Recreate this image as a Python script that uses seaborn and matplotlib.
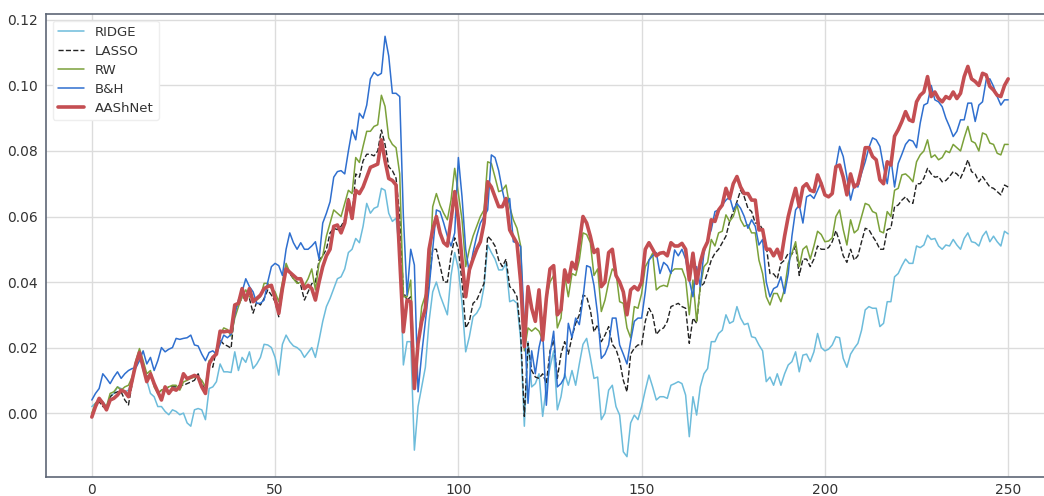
import numpy as np
import pandas as pd
import matplotlib
matplotlib.use('Agg')
import matplotlib.pyplot as plt
import seaborn as sns

# values, one per day 0..250
ridge = [
    0.002, 0.003, 0.004, 0.0035, 0.002, 0.005, 0.006, 0.008, 0.0075, 0.0065,
    0.007, 0.010, 0.015, 0.018, 0.013, 0.010, 0.006, 0.005, 0.002, 0.002,
    0.0005, -0.0005, 0.001, 0.0005, -0.0005, 0.000, -0.003, -0.004, 0.001, 0.0014,
    0.001, -0.002, 0.0075, 0.008, 0.0096, 0.015, 0.0126, 0.0126, 0.0124, 0.0187,
    0.013, 0.017, 0.0155, 0.0187, 0.0136, 0.015, 0.017, 0.021, 0.0208, 0.020,
    0.017, 0.0116, 0.021, 0.0238, 0.0218, 0.0205, 0.020, 0.019, 0.017, 0.0185,
    0.020, 0.017, 0.0223, 0.028, 0.0325, 0.035, 0.038, 0.041, 0.0416, 0.044,
    0.049, 0.050, 0.0533, 0.052, 0.057, 0.064, 0.061, 0.0625, 0.063, 0.0686,
    0.068, 0.061, 0.0585, 0.0595, 0.049, 0.0147, 0.0218, 0.0218, -0.0113, 0.002,
    0.008, 0.014, 0.028, 0.037, 0.040, 0.036, 0.033, 0.030, 0.042, 0.049,
    0.044, 0.0335, 0.0187, 0.0233, 0.0294, 0.0305, 0.0325, 0.0386, 0.0513, 0.049,
    0.047, 0.0437, 0.0437, 0.0457, 0.034, 0.0345, 0.0335, 0.0223, -0.004, 0.0218,
    0.008, 0.009, 0.012, -0.001, 0.008, 0.014, 0.019, 0.001, 0.005, 0.012,
    0.0085, 0.013, 0.0085, 0.015, 0.021, 0.0228, 0.017, 0.0106, 0.011, -0.002,
    0.000, 0.007, 0.0085, 0.002, -0.0006, -0.0118, -0.0133, -0.003, -0.0006, -0.002,
    0.002, 0.007, 0.0116, 0.008, 0.004, 0.005, 0.005, 0.0045, 0.0085, 0.009,
    0.0096, 0.009, 0.0055, -0.0072, 0.005, -0.0006, 0.008, 0.012, 0.0136, 0.0218,
    0.0218, 0.0243, 0.0253, 0.030, 0.0274, 0.028, 0.0325, 0.029, 0.027, 0.0274,
    0.0233, 0.023, 0.0208, 0.019, 0.0096, 0.011, 0.0085, 0.012, 0.0085, 0.012,
    0.0147, 0.0157, 0.0187, 0.0126, 0.0177, 0.018, 0.0157, 0.0187, 0.0243, 0.020,
    0.019, 0.0195, 0.0208, 0.0233, 0.023, 0.0167, 0.014, 0.018, 0.0198, 0.0213,
    0.0253, 0.0315, 0.0325, 0.032, 0.032, 0.0264, 0.0274, 0.034, 0.034, 0.0416,
    0.0426, 0.045, 0.047, 0.0457, 0.0457, 0.051, 0.0505, 0.0513, 0.0543, 0.053,
    0.0533, 0.051, 0.050, 0.0513, 0.051, 0.053, 0.0513, 0.050, 0.0533, 0.055,
    0.0523, 0.052, 0.051, 0.054, 0.0555, 0.0523, 0.054, 0.0523, 0.051, 0.0555,
    0.0547,
]

lasso = [
    -0.001, 0.002, 0.0035, 0.002, 0.0015, 0.005, 0.006, 0.0065, 0.0065, 0.004,
    0.0025, 0.009, 0.015, 0.018, 0.014, 0.011, 0.012, 0.009, 0.006, 0.007,
    0.0072, 0.008, 0.008, 0.008, 0.0085, 0.0085, 0.009, 0.0095, 0.010, 0.012,
    0.009, 0.007, 0.015, 0.014, 0.0195, 0.0223, 0.021, 0.0205, 0.0198, 0.0315,
    0.0335, 0.035, 0.0355, 0.035, 0.0305, 0.034, 0.033, 0.035, 0.0376, 0.036,
    0.034, 0.0294, 0.037, 0.045, 0.0426, 0.041, 0.040, 0.039, 0.0345, 0.037,
    0.0395, 0.040, 0.0467, 0.048, 0.050, 0.055, 0.0564, 0.056, 0.057, 0.059,
    0.0655, 0.060, 0.073, 0.072, 0.077, 0.079, 0.079, 0.0785, 0.080, 0.0864,
    0.082, 0.0752, 0.074, 0.0717, 0.060, 0.037, 0.0345, 0.0355, 0.009, 0.0223,
    0.028, 0.031, 0.040, 0.050, 0.050, 0.045, 0.040, 0.040, 0.048, 0.0535,
    0.050, 0.040, 0.026, 0.028, 0.0335, 0.0345, 0.037, 0.0396, 0.054, 0.0528,
    0.051, 0.0467, 0.0447, 0.047, 0.0386, 0.0376, 0.0355, 0.0243, -0.001, 0.0213,
    0.013, 0.011, 0.0106, 0.012, 0.009, 0.019, 0.0223, 0.0106, 0.018, 0.0218,
    0.018, 0.0233, 0.0274, 0.030, 0.036, 0.0355, 0.0315, 0.0248, 0.027, 0.0218,
    0.0238, 0.0264, 0.021, 0.0195, 0.016, 0.010, 0.0065, 0.018, 0.0198, 0.0208,
    0.0208, 0.028, 0.032, 0.030, 0.024, 0.0254, 0.026, 0.028, 0.0325, 0.033,
    0.0335, 0.0325, 0.032, 0.0213, 0.029, 0.0274, 0.0386, 0.0396, 0.043, 0.0467,
    0.0488, 0.050, 0.052, 0.054, 0.0585, 0.0615, 0.0645, 0.068, 0.066, 0.0625,
    0.0615, 0.058, 0.058, 0.056, 0.051, 0.0426, 0.0425, 0.041, 0.0457, 0.0467,
    0.0488, 0.0485, 0.051, 0.042, 0.047, 0.047, 0.0447, 0.047, 0.051, 0.050,
    0.050, 0.0505, 0.0523, 0.0557, 0.0523, 0.048, 0.046, 0.050, 0.0467, 0.048,
    0.0523, 0.0564, 0.056, 0.054, 0.0523, 0.050, 0.050, 0.056, 0.0564, 0.063,
    0.0635, 0.065, 0.066, 0.0645, 0.064, 0.070, 0.070, 0.0717, 0.0747, 0.073,
    0.072, 0.0722, 0.0706, 0.071, 0.0722, 0.0737, 0.073, 0.0717, 0.0742, 0.0773,
    0.0737, 0.073, 0.0706, 0.0722, 0.0706, 0.069, 0.0686, 0.0676, 0.0666, 0.0696,
    0.069,
]

rw = [
    0.000, 0.003, 0.004, 0.003, 0.002, 0.006, 0.0065, 0.008, 0.007, 0.008,
    0.0085, 0.011, 0.016, 0.0197, 0.016, 0.012, 0.013, 0.008, 0.006, 0.007,
    0.0075, 0.008, 0.0085, 0.0085, 0.007, 0.0095, 0.010, 0.0106, 0.011, 0.011,
    0.010, 0.008, 0.016, 0.0165, 0.019, 0.024, 0.026, 0.0255, 0.0235, 0.029,
    0.0325, 0.0355, 0.0376, 0.0355, 0.035, 0.0345, 0.0355, 0.0396, 0.0396, 0.038,
    0.037, 0.034, 0.040, 0.0457, 0.043, 0.041, 0.0396, 0.040, 0.039, 0.041,
    0.044, 0.0376, 0.0457, 0.048, 0.054, 0.058, 0.062, 0.061, 0.060, 0.064,
    0.068, 0.067, 0.078, 0.0765, 0.0814, 0.086, 0.086, 0.0875, 0.088, 0.097,
    0.0936, 0.084, 0.082, 0.081, 0.073, 0.0355, 0.0355, 0.0406, 0.012, 0.021,
    0.0325, 0.036, 0.040, 0.063, 0.067, 0.0635, 0.061, 0.059, 0.065, 0.0747,
    0.067, 0.059, 0.0447, 0.050, 0.054, 0.057, 0.060, 0.062, 0.0767, 0.0762,
    0.072, 0.0676, 0.068, 0.0696, 0.063, 0.059, 0.0564, 0.051, 0.019, 0.026,
    0.025, 0.026, 0.025, 0.0223, 0.035, 0.040, 0.042, 0.026, 0.029, 0.042,
    0.0355, 0.0426, 0.042, 0.0467, 0.055, 0.0545, 0.052, 0.042, 0.044, 0.031,
    0.0345, 0.040, 0.044, 0.043, 0.034, 0.0335, 0.026, 0.023, 0.0325, 0.032,
    0.0365, 0.0447, 0.0467, 0.0488, 0.0376, 0.0386, 0.039, 0.0386, 0.043, 0.044,
    0.044, 0.044, 0.041, 0.030, 0.0406, 0.028, 0.0386, 0.0447, 0.046, 0.053,
    0.051, 0.055, 0.0555, 0.0605, 0.0585, 0.060, 0.0635, 0.059, 0.057, 0.0575,
    0.055, 0.055, 0.0467, 0.0426, 0.0355, 0.033, 0.0365, 0.0365, 0.034, 0.038,
    0.0457, 0.0488, 0.0523, 0.0447, 0.050, 0.051, 0.047, 0.051, 0.0555, 0.0545,
    0.0523, 0.0525, 0.0535, 0.060, 0.062, 0.056, 0.0513, 0.059, 0.055, 0.056,
    0.060, 0.064, 0.0635, 0.0615, 0.061, 0.0555, 0.055, 0.0615, 0.060, 0.068,
    0.0686, 0.0727, 0.073, 0.072, 0.0706, 0.0767, 0.0788, 0.080, 0.0834, 0.078,
    0.0788, 0.0773, 0.078, 0.080, 0.0795, 0.082, 0.081, 0.080, 0.084, 0.0875,
    0.083, 0.0824, 0.080, 0.0855, 0.085, 0.0824, 0.082, 0.0793, 0.0788, 0.082,
    0.082,
]

bh = [
    0.004, 0.006, 0.0075, 0.012, 0.0106, 0.009, 0.011, 0.0126, 0.0106, 0.012,
    0.013, 0.0136, 0.0138, 0.016, 0.019, 0.015, 0.017, 0.013, 0.016, 0.020,
    0.0187, 0.0195, 0.020, 0.0228, 0.0225, 0.0228, 0.023, 0.0238, 0.0208, 0.0205,
    0.018, 0.016, 0.0185, 0.019, 0.018, 0.021, 0.0238, 0.023, 0.024, 0.030,
    0.0345, 0.037, 0.041, 0.0386, 0.037, 0.0335, 0.0335, 0.0345, 0.040, 0.0447,
    0.0457, 0.045, 0.042, 0.050, 0.055, 0.052, 0.050, 0.052, 0.050, 0.050,
    0.051, 0.0523, 0.047, 0.058, 0.061, 0.0645, 0.072, 0.0737, 0.074, 0.073,
    0.080, 0.0864, 0.0834, 0.0915, 0.090, 0.094, 0.102, 0.104, 0.103, 0.1037,
    0.115, 0.109, 0.0976, 0.0976, 0.0966, 0.060, 0.036, 0.050, 0.0452, 0.0065,
    0.018, 0.028, 0.038, 0.050, 0.062, 0.0615, 0.058, 0.054, 0.051, 0.055,
    0.078, 0.066, 0.050, 0.0426, 0.049, 0.054, 0.058, 0.060, 0.062, 0.0788,
    0.078, 0.074, 0.068, 0.063, 0.0655, 0.0523, 0.052, 0.0508, 0.0274, 0.003,
    0.019, 0.012, 0.020, 0.025, 0.0024, 0.018, 0.025, 0.008, 0.009, 0.011,
    0.0274, 0.023, 0.029, 0.027, 0.035, 0.045, 0.0445, 0.039, 0.030, 0.0167,
    0.018, 0.0208, 0.029, 0.029, 0.0208, 0.018, 0.015, 0.022, 0.028, 0.029,
    0.029, 0.037, 0.0467, 0.048, 0.049, 0.0426, 0.046, 0.045, 0.0426, 0.0498,
    0.048, 0.050, 0.047, 0.0406, 0.0355, 0.0447, 0.0386, 0.049, 0.053, 0.056,
    0.0615, 0.062, 0.0635, 0.065, 0.066, 0.062, 0.064, 0.0625, 0.060, 0.0564,
    0.059, 0.057, 0.0513, 0.053, 0.040, 0.0355, 0.038, 0.0386, 0.0416, 0.0365,
    0.0426, 0.054, 0.062, 0.0635, 0.058, 0.066, 0.0666, 0.0655, 0.068, 0.0706,
    0.0666, 0.066, 0.067, 0.0752, 0.0814, 0.0783, 0.072, 0.065, 0.0696, 0.069,
    0.0732, 0.0767, 0.081, 0.084, 0.0834, 0.0814, 0.0752, 0.070, 0.0778, 0.069,
    0.0762, 0.079, 0.082, 0.0834, 0.083, 0.081, 0.0885, 0.094, 0.0946, 0.100,
    0.0956, 0.095, 0.0935, 0.090, 0.0874, 0.0844, 0.086, 0.0895, 0.0895, 0.0946,
    0.0946, 0.089, 0.094, 0.095, 0.1017, 0.102, 0.0997, 0.0966, 0.094, 0.0956,
    0.0956,
]

aashnet = [
    -0.0012, 0.002, 0.0045, 0.003, 0.001, 0.004, 0.0045, 0.0055, 0.007, 0.0065,
    0.005, 0.010, 0.015, 0.0185, 0.014, 0.0096, 0.012, 0.009, 0.0065, 0.004,
    0.008, 0.006, 0.0075, 0.007, 0.008, 0.012, 0.0105, 0.011, 0.0115, 0.011,
    0.008, 0.006, 0.015, 0.017, 0.018, 0.025, 0.0248, 0.025, 0.0248, 0.033,
    0.0335, 0.038, 0.0345, 0.038, 0.034, 0.035, 0.036, 0.038, 0.0386, 0.039,
    0.035, 0.0304, 0.038, 0.044, 0.043, 0.042, 0.041, 0.041, 0.038, 0.039,
    0.038, 0.0345, 0.040, 0.0447, 0.048, 0.050, 0.057, 0.0574, 0.055, 0.058,
    0.065, 0.0594, 0.068, 0.067, 0.069, 0.072, 0.075, 0.0755, 0.076, 0.0834,
    0.077, 0.0716, 0.071, 0.0696, 0.047, 0.0248, 0.0345, 0.034, 0.0075, 0.0213,
    0.028, 0.032, 0.050, 0.056, 0.060, 0.055, 0.052, 0.051, 0.059, 0.0676,
    0.059, 0.0467, 0.0355, 0.0437, 0.047, 0.050, 0.0523, 0.058, 0.0706, 0.069,
    0.066, 0.063, 0.063, 0.0655, 0.0559, 0.0538, 0.0518, 0.040, 0.0203, 0.0386,
    0.032, 0.028, 0.0376, 0.0223, 0.035, 0.044, 0.045, 0.030, 0.0315, 0.0437,
    0.040, 0.046, 0.044, 0.052, 0.060, 0.058, 0.054, 0.049, 0.050, 0.0386,
    0.040, 0.049, 0.050, 0.042, 0.040, 0.037, 0.030, 0.0376, 0.0386, 0.0376,
    0.040, 0.050, 0.052, 0.050, 0.048, 0.0488, 0.049, 0.048, 0.052, 0.051,
    0.051, 0.0518, 0.050, 0.0406, 0.0488, 0.0396, 0.046, 0.050, 0.0523, 0.059,
    0.0585, 0.062, 0.0635, 0.0686, 0.0655, 0.070, 0.0722, 0.069, 0.067, 0.067,
    0.065, 0.065, 0.0559, 0.056, 0.050, 0.050, 0.048, 0.050, 0.047, 0.054,
    0.060, 0.0645, 0.0686, 0.063, 0.069, 0.070, 0.068, 0.0676, 0.0727, 0.070,
    0.0666, 0.066, 0.067, 0.0752, 0.0757, 0.072, 0.0666, 0.073, 0.069, 0.070,
    0.0747, 0.081, 0.081, 0.0783, 0.0773, 0.0712, 0.070, 0.0767, 0.0757, 0.0845,
    0.0865, 0.089, 0.092, 0.0895, 0.089, 0.095, 0.097, 0.098, 0.1027, 0.0966,
    0.098, 0.096, 0.095, 0.0966, 0.096, 0.098, 0.096, 0.0976, 0.1027, 0.1058,
    0.102, 0.1012, 0.100, 0.1037, 0.1032, 0.0997, 0.0986, 0.097, 0.0966, 0.100,
    0.102,
]

days = np.arange(251)
df = pd.DataFrame({'day': days, 'RIDGE': ridge, 'LASSO': lasso, 'RW': rw,
                   'B&H': bh, 'AAShNet': aashnet})

sns.set_style('whitegrid')
plt.rcParams['font.family'] = ['DejaVu Sans']

fig = plt.figure(figsize=(10.44, 4.96), dpi=100)
ax = fig.add_axes([46 / 1044, 19 / 496, 1008 / 1044, 463 / 496])

styles = {
    'RIDGE': dict(color='#6dbcdb', lw=1.1),
    'LASSO': dict(color='#222222', lw=1.0, ls='--'),
    'RW': dict(color='#7ba13a', lw=1.1),
    'B&H': dict(color='#2f6fcf', lw=1.1),
    'AAShNet': dict(color='#c44e52', lw=2.6),
}
for name, st in styles.items():
    sns.lineplot(data=df, x='day', y=name, ax=ax, label=name, **st)

ax.set_xlim(-12.5, 262.5)
ax.set_ylim(-0.0195, 0.1218)
ax.set_xticks([0, 50, 100, 150, 200, 250])
ax.set_yticks([0.00, 0.02, 0.04, 0.06, 0.08, 0.10, 0.12])
ax.set_yticklabels(['0.00', '0.02', '0.04', '0.06', '0.08', '0.10', '0.12'])
ax.set_xlabel('')
ax.set_ylabel('')
ax.grid(True, color='#dcdcdc', lw=1.0)
ax.tick_params(axis='both', length=0, labelsize=10, colors='#333333')
ax.tick_params(axis='x', pad=4)
ax.tick_params(axis='y', pad=6)

for side in ['left', 'top', 'bottom']:
    ax.spines[side].set_color('#5d6676')
    ax.spines[side].set_linewidth(1.2)
ax.spines['right'].set_visible(False)

leg = ax.legend(loc='upper left', fontsize=9.5, frameon=True, framealpha=1,
                labelspacing=0.45)
leg.get_frame().set_edgecolor('#eeeeee')
for t in leg.get_texts():
    t.set_color('#333333')

fig.savefig('out.png', dpi=100)
